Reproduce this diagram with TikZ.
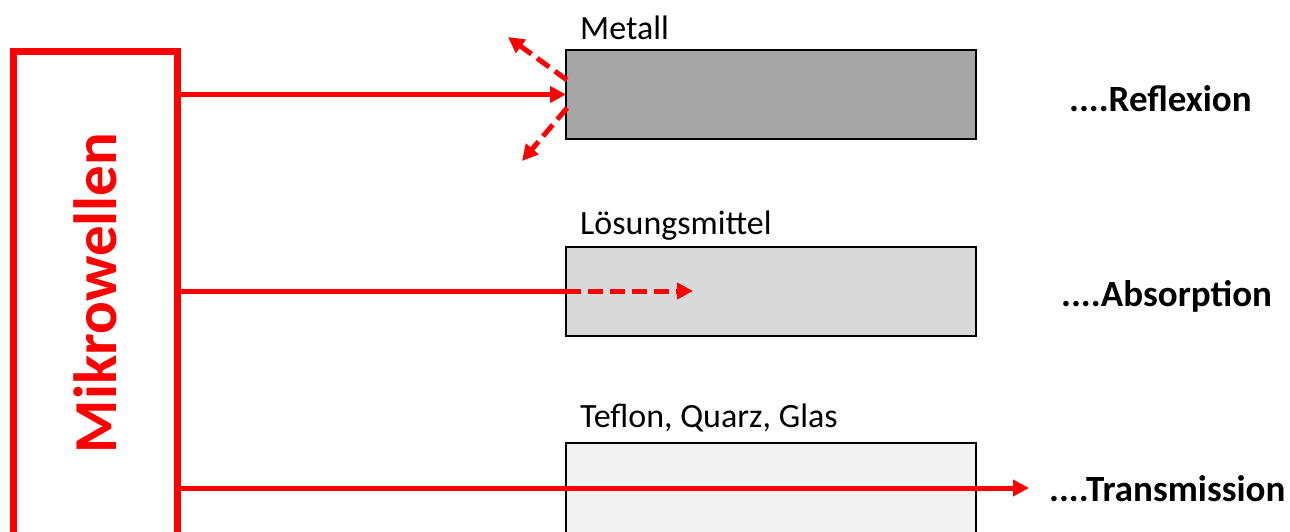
\documentclass[tikz,border=0pt]{standalone}
\usepackage{fontspec}
\setmainfont{Carlito}
\usetikzlibrary{arrows.meta}
\definecolor{mred}{HTML}{FF0000}
\definecolor{gA}{HTML}{A6A6A6}
\definecolor{gB}{HTML}{D9D9D9}
\definecolor{gC}{HTML}{F2F2F2}
\tikzset{
  matbox/.style={draw=black, line width=1.3pt, minimum width=410pt, minimum height=89pt, inner sep=0pt, outer sep=0pt},
  ray/.style={draw=mred, line width=5pt, -{Triangle[length=16pt,width=16pt]}},
  plainray/.style={draw=mred, line width=5pt},
  dray/.style={ray, dash pattern=on 15pt off 7pt},
  matlabel/.style={anchor=base west, inner sep=0pt, font=\fontsize{34}{38}\selectfont},
  reslabel/.style={anchor=base west, inner sep=0pt, font=\fontsize{37}{42}\selectfont\bfseries},
}
\begin{document}
\begin{tikzpicture}[x=1pt,y=-1pt]
\useasboundingbox (0,0) rectangle (1290,531);
\clip (0,0) rectangle (1290,531);
% Mikrowellen box
\node[draw=mred, line width=7pt, minimum width=164pt, minimum height=509pt, inner sep=0pt, outer sep=0pt] (mwbox) at (95,305.5) {};
\node[rotate=90, text=mred, font=\fontsize{61}{66}\selectfont\bfseries, inner sep=0pt] (mwtext) at (95,293) {Mikrowellen};
% material boxes
\node[matbox, fill=gA] (metal) at (771,94.5) {};
\node[matbox, fill=gB] (solv) at (771,291.5) {};
\node[matbox, fill=gC, minimum height=120pt] (tef) at (771,503) {};
% material labels
\node[matlabel] (lmetal) at (580,39) {Metall};
\node[matlabel] (lsolv) at (580,234) {Lösungsmittel};
\node[matlabel] (ltef) at (580,427) {Teflon, Quarz, Glas};
% result labels
\node[reslabel] (rref) at (1069,111) {....Reflexion};
\node[reslabel] (rabs) at (1061,306) {....Absorption};
\node[reslabel] (rtr) at (1049,501) {....Transmission};
% coordinates
\coordinate (absend) at (693,291);
\coordinate (trend) at (1029,488);
\coordinate (refup0) at (567,80);
\coordinate (refup1) at (508,37);
\coordinate (refdn0) at (567,108);
\coordinate (refdn1) at (522,161);
% arrows
\draw[ray] (mwbox.east |- metal.west) -- (metal.west);
\draw[dray] (refup0) -- (refup1);
\draw[dray] (refdn0) -- (refdn1);
\draw[plainray] (mwbox.east |- absend) -- (solv.west |- absend);
\draw[dray] (solv.west |- absend) -- (absend);
\draw[ray] (mwbox.east |- trend) -- (trend);
\end{tikzpicture}
\end{document}
